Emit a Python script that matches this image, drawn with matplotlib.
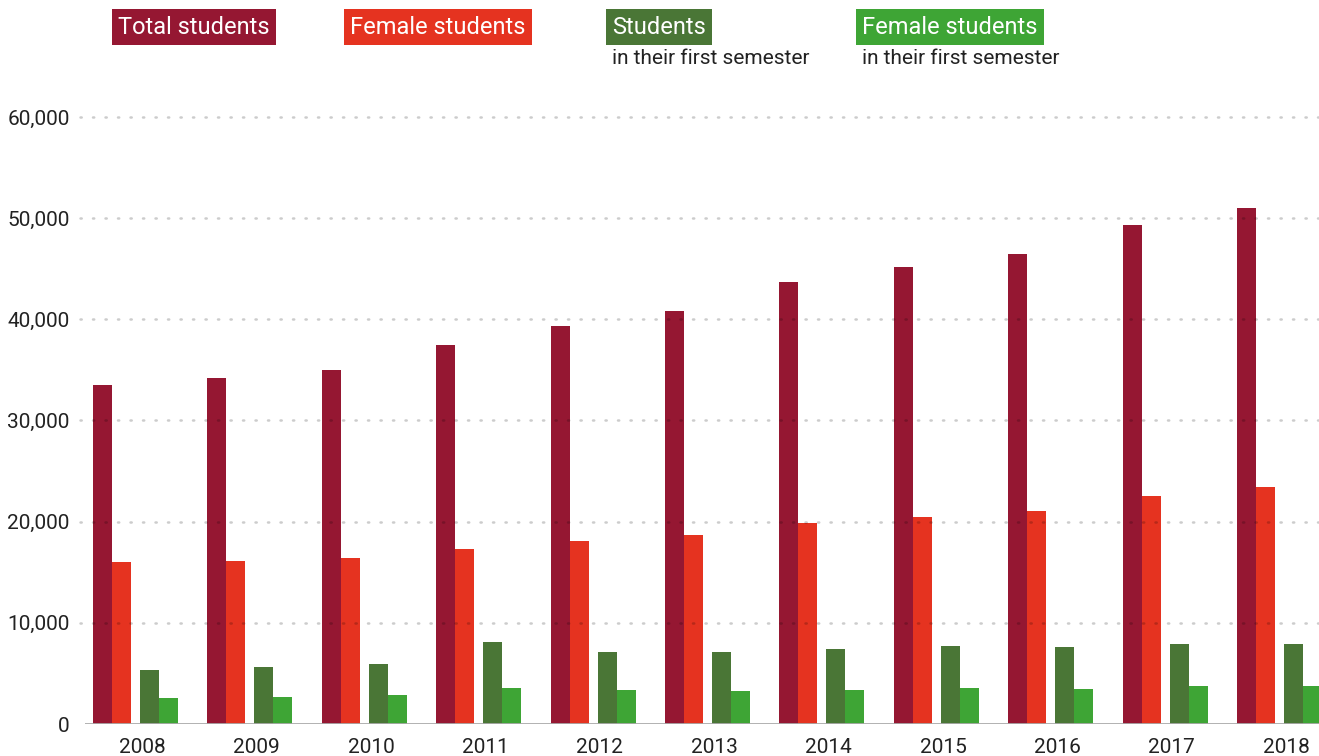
import matplotlib

matplotlib.use("Agg")
import matplotlib.pyplot as plt
from matplotlib.ticker import FuncFormatter

years = ["2008", "2009", "2010", "2011", "2012", "2013", "2014", "2015", "2016", "2017", "2018"]
total_students = [33500, 34200, 35000, 37450, 39350, 40800, 43700, 45150, 46450, 49300, 51000]
female_students = [16000, 16100, 16400, 17300, 18100, 18700, 19850, 20450, 21050, 22550, 23400]
first_semester = [5350, 5650, 5950, 8100, 7150, 7150, 7400, 7700, 7600, 7900, 7900]
female_first_semester = [2550, 2650, 2850, 3550, 3350, 3250, 3350, 3550, 3500, 3750, 3750]

series_labels = ["Total students", "Female students", "Students", "Female students"]
series_sublabels = ["", "", "in their first semester", "in their first semester"]
yticks = [0, 10000, 20000, 30000, 40000, 50000, 60000]

COLORS = ["#951732", "#E53320", "#4A7636", "#3EA535"]
FONT = ["Roboto", "DejaVu Sans"]
plt.rcParams["font.family"] = FONT

W, H = 1319, 756
fig = plt.figure(figsize=(W / 100, H / 100), dpi=100)
ax = fig.add_axes([85 / W, 1 - 724 / H, (W - 85) / W, (724 - 117) / H])

bar_w = 19 / 114.4
offsets = [0.0, bar_w, 47 / 114.4, 47 / 114.4 + bar_w]
series = [total_students, female_students, first_semester, female_first_semester]
x = list(range(len(years)))
for values, off, color in zip(series, offsets, COLORS):
    ax.bar([i + off for i in x], values, width=bar_w, align="edge", color=color, zorder=2, linewidth=0)

ax.set_xlim(-8 / 114.4, -8 / 114.4 + (W - 85) / 114.4)
ax.set_ylim(0, 60000)

# dotted gridlines drawn on top of the bars
for t in yticks[1:]:
    ax.axhline(t, xmin=-5 / (W - 85), xmax=1, color="black", alpha=0.2, linestyle=(0, (0.5, 4.5)),
               linewidth=1.8, dash_capstyle="round", zorder=3, clip_on=False)
ax.axhline(0, color="#aaaaaa", linewidth=2, zorder=4)

for s in ax.spines.values():
    s.set_visible(False)
ax.set_yticks(yticks)
ax.yaxis.set_major_formatter(FuncFormatter(lambda v, p: f"{int(v):,}"))
ax.tick_params(axis="y", length=0, pad=11, labelsize=15, labelcolor="#222222")
ax.set_xticks([i + 0.43 for i in x])
ax.set_xticklabels(years)
ax.tick_params(axis="x", length=0, pad=10, labelsize=15, labelcolor="#222222")

# legend boxes at the top
legend_x = [118, 350, 612, 862]
for label, sub, color, lx in zip(series_labels, series_sublabels, COLORS, legend_x):
    fig.text(lx / W, 1 - 27 / H, label, color="white", fontsize=17, ha="left", va="center",
             bbox=dict(boxstyle="square,pad=0.27", facecolor=color, edgecolor="none"))
    if sub:
        fig.text(lx / W, 1 - 58 / H, sub, color="#222222", fontsize=15, ha="left", va="center")

fig.savefig("out.png", dpi=100)
